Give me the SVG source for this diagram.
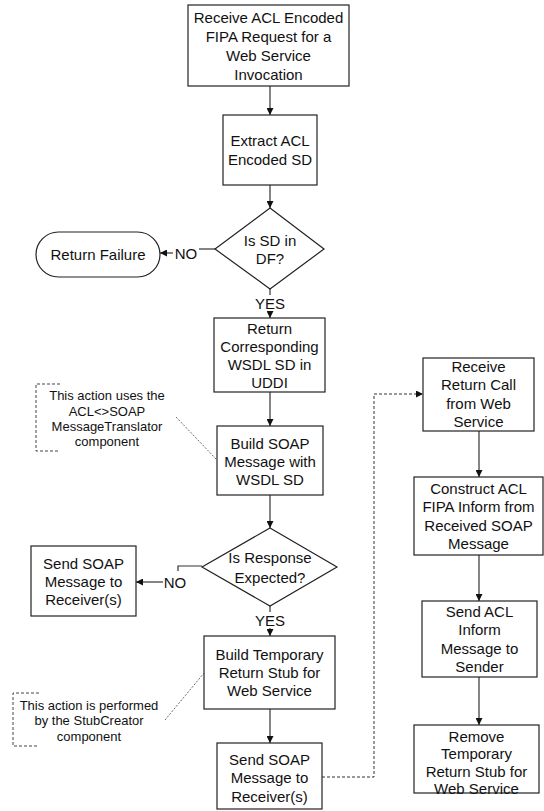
<svg xmlns="http://www.w3.org/2000/svg" width="544" height="811" viewBox="0 0 544 811">
<defs>
<style>
.box{fill:#fff;stroke:#222;stroke-width:1.2}
.t{font-family:"Liberation Sans",Arial,sans-serif;font-size:15px;fill:#111;text-anchor:middle}
.n{font-family:"Liberation Sans",Arial,sans-serif;font-size:13px;fill:#111;text-anchor:middle}
.c{fill:none;stroke:#333;stroke-width:1.2}
.d{fill:none;stroke:#333;stroke-width:1;stroke-dasharray:3,2}
.br{fill:none;stroke:#444;stroke-width:1;stroke-dasharray:3,2}
.ld{fill:none;stroke:#444;stroke-width:0.8;stroke-dasharray:2,1.5}
</style>
<marker id="ah" viewBox="0 0 10 10" refX="10" refY="5" markerWidth="7" markerHeight="7" markerUnits="userSpaceOnUse" orient="auto">
<path d="M0,0 L10,5 L0,10 z" fill="#111"/>
</marker>
</defs>
<rect width="544" height="811" fill="#fff"/>

<g id="connectors">
<path class="c" d="M270,86 V115" marker-end="url(#ah)"/>
<path class="c" d="M270,185 V208" marker-end="url(#ah)"/>
<path class="c" d="M215,249 H199"/>
<path class="c" d="M173,253 H160" marker-end="url(#ah)"/>
<path class="c" d="M270,289 V295"/>
<path class="c" d="M270,311 V318" marker-end="url(#ah)"/>
<path class="c" d="M270,392 V426" marker-end="url(#ah)"/>
<path class="c" d="M270,495 V528" marker-end="url(#ah)"/>
<path class="c" d="M202,566 H178 V571"/>
<path class="c" d="M163,582 H136" marker-end="url(#ah)"/>
<path class="c" d="M270,606 V612"/>
<path class="c" d="M270,628 V636" marker-end="url(#ah)"/>
<path class="c" d="M270,709 V743" marker-end="url(#ah)"/>
<path class="d" d="M322,777 H374 V394 H423" marker-end="url(#ah)"/>
<path class="c" d="M479,431 V477" marker-end="url(#ah)"/>
<path class="c" d="M479,555 V601" marker-end="url(#ah)"/>
<path class="c" d="M479,677 V725" marker-end="url(#ah)"/>
<text class="t" x="186" y="258.5">NO</text>
<text class="t" x="270" y="308.5">YES</text>
<text class="t" x="175" y="587.5">NO</text>
<text class="t" x="270" y="625.5">YES</text>
</g>

<g id="n1">
<rect class="box" x="188" y="5" width="161" height="81"/>
<text class="t" x="268.5" y="22.5">Receive ACL Encoded</text>
<text class="t" x="268.5" y="41.5">FIPA Request for a</text>
<text class="t" x="268.5" y="60.5">Web Service</text>
<text class="t" x="268.5" y="79.5">Invocation</text>
</g>

<g id="n2">
<rect class="box" x="223" y="115" width="94" height="70"/>
<text class="t" x="270" y="146">Extract ACL</text>
<text class="t" x="270" y="165">Encoded SD</text>
</g>

<g id="d1">
<polygon class="box" points="270,208 324,249 270,289 215,249"/>
<text class="t" x="270" y="245.5">Is SD in</text>
<text class="t" x="270" y="263.5">DF?</text>
</g>

<g id="fail">
<rect class="box" x="36" y="232" width="124" height="45" rx="22.5" ry="22.5"/>
<text class="t" x="98" y="260">Return Failure</text>
</g>

<g id="n3">
<rect class="box" x="214" y="318" width="111" height="74"/>
<text class="t" x="269.5" y="333.5">Return</text>
<text class="t" x="269.5" y="351.5">Corresponding</text>
<text class="t" x="269.5" y="369.5">WSDL SD in</text>
<text class="t" x="269.5" y="388">UDDI</text>
</g>

<g id="n4">
<rect class="box" x="217" y="426" width="106" height="69"/>
<text class="t" x="270" y="448.5">Build SOAP</text>
<text class="t" x="270" y="466.5">Message with</text>
<text class="t" x="270" y="484.5">WSDL SD</text>
</g>

<g id="note1">
<path class="br" d="M60,384 H36 V451 H60"/>
<text class="n" x="107" y="399.5">This action uses the</text>
<text class="n" x="107" y="415.5">ACL&lt;&gt;SOAP</text>
<text class="n" x="107" y="430.5">MessageTranslator</text>
<text class="n" x="107" y="445.5">component</text>
<path class="ld" d="M176,417 L217,460"/>
</g>

<g id="d2">
<polygon class="box" points="270,528 337,567 270,606 202,567"/>
<text class="t" x="270" y="562.5">Is Response</text>
<text class="t" x="270" y="582.5">Expected?</text>
</g>

<g id="n5">
<rect class="box" x="31" y="546" width="105" height="70"/>
<text class="t" x="83.5" y="568.5">Send SOAP</text>
<text class="t" x="83.5" y="586.5">Message to</text>
<text class="t" x="83.5" y="604.5">Receiver(s)</text>
</g>

<g id="n6">
<rect class="box" x="204" y="636" width="131" height="73"/>
<text class="t" x="269.5" y="659.5">Build Temporary</text>
<text class="t" x="269.5" y="677.5">Return Stub for</text>
<text class="t" x="269.5" y="696">Web Service</text>
</g>

<g id="note2">
<path class="br" d="M39,693 H13 V746 H39"/>
<text class="n" x="89" y="709.5">This action is performed</text>
<text class="n" x="89" y="724.5">by the StubCreator</text>
<text class="n" x="89" y="740.5">component</text>
<path class="ld" d="M165,720 L204,673"/>
</g>

<g id="n7">
<rect class="box" x="217" y="743" width="105" height="66"/>
<text class="t" x="269.5" y="764.5">Send SOAP</text>
<text class="t" x="269.5" y="783">Message to</text>
<text class="t" x="269.5" y="801.5">Receiver(s)</text>
</g>

<g id="n8">
<rect class="box" x="423" y="358" width="111" height="73"/>
<text class="t" x="478.5" y="371.5">Receive</text>
<text class="t" x="478.5" y="390">Return Call</text>
<text class="t" x="478.5" y="408.5">from Web</text>
<text class="t" x="478.5" y="427">Service</text>
</g>

<g id="n9">
<rect class="box" x="414" y="477" width="129" height="78"/>
<text class="t" x="478.5" y="493.5">Construct ACL</text>
<text class="t" x="478.5" y="512">FIPA Inform from</text>
<text class="t" x="478.5" y="530.5">Received SOAP</text>
<text class="t" x="478.5" y="549">Message</text>
</g>

<g id="n10">
<rect class="box" x="422" y="601" width="115" height="76"/>
<text class="t" x="479.5" y="616.5">Send ACL</text>
<text class="t" x="479.5" y="635">Inform</text>
<text class="t" x="479.5" y="653.5">Message to</text>
<text class="t" x="479.5" y="672">Sender</text>
</g>

<g id="n11">
<rect class="box" x="414" y="725" width="125" height="68"/>
<text class="t" x="476.5" y="741.5">Remove</text>
<text class="t" x="476.5" y="759">Temporary</text>
<text class="t" x="476.5" y="776.5">Return Stub for</text>
<text class="t" x="476.5" y="794">Web Service</text>
</g>
</svg>
